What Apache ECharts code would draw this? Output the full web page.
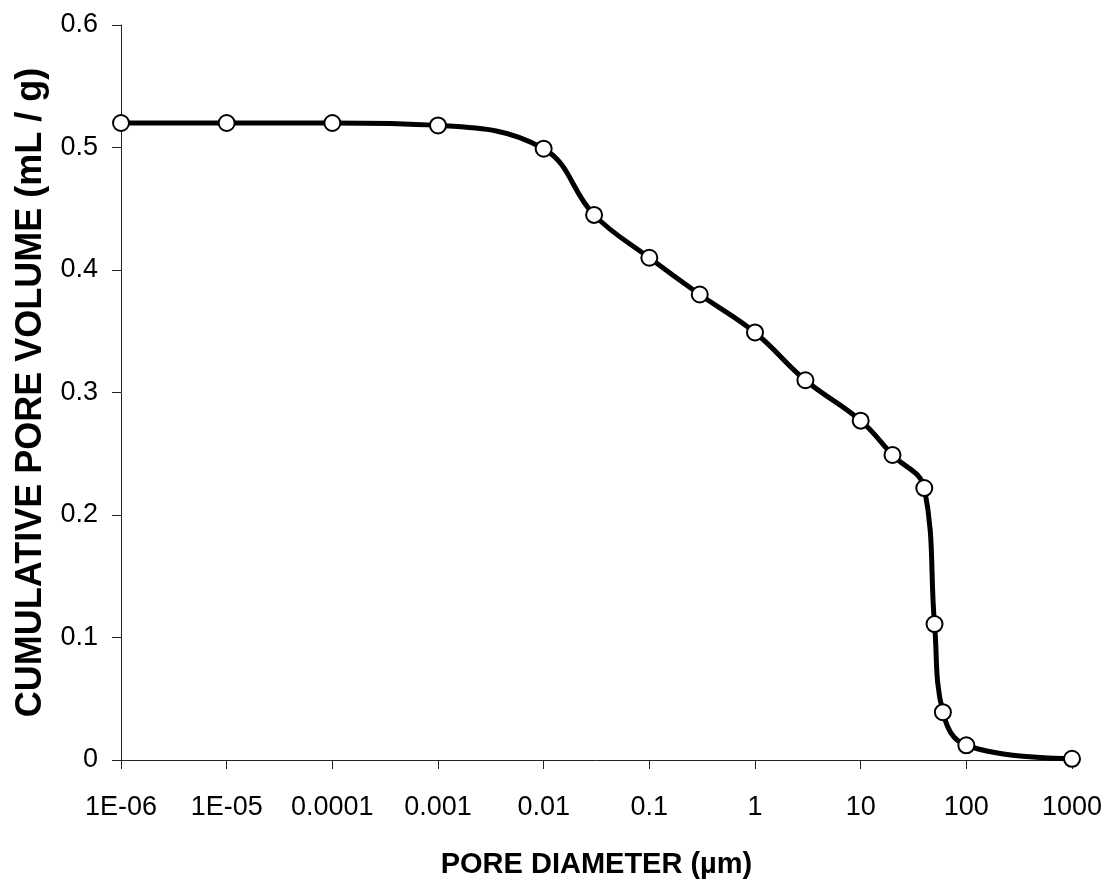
<!DOCTYPE html>
<html>
<head>
<meta charset="utf-8">
<script src="https://cdn.jsdelivr.net/npm/echarts@6/dist/echarts.min.js"></script>
<style>
html,body{margin:0;padding:0;background:#fff;}
#chart{width:1112px;height:884px;}
</style>
</head>
<body>
<div id="chart"></div>
<script>
var poreDiameter = [1e-6, 1e-5, 1e-4, 1e-3, 0.01, 0.03, 0.1, 0.3, 1, 3, 10, 20, 40, 50, 60, 100, 1000];
var poreVolume = [0.520, 0.520, 0.520, 0.518, 0.499, 0.445, 0.410, 0.380, 0.349, 0.310, 0.277, 0.249, 0.222, 0.111, 0.039, 0.012, 0.001];
var xTickLabels = ['1E-06', '1E-05', '0.0001', '0.001', '0.01', '0.1', '1', '10', '100', '1000'];
var xTitle = 'PORE DIAMETER (\u00b5m)';
var yTitle = 'CUMULATIVE PORE VOLUME (mL / g)';

var seriesData = poreDiameter.map(function (d, i) { return [d, poreVolume[i]]; });
var font = "'Liberation Sans', Arial, sans-serif";

var chart = echarts.init(document.getElementById('chart'), null, {renderer: 'canvas'});
chart.setOption({
  animation: false,
  backgroundColor: '#ffffff',
  grid: {left: 121, right: 40, top: 25, bottom: 124, containLabel: false},
  xAxis: {
    type: 'log',
    logBase: 10,
    min: 1e-6,
    max: 1000,
    splitNumber: 9,
    name: xTitle,
    nameLocation: 'middle',
    nameGap: 90,
    nameTextStyle: {fontFamily: font, fontSize: 29, fontWeight: 'bold', color: '#000'},
    axisLine: {show: true, onZero: false, lineStyle: {color: '#222', width: 1}},
    axisTick: {show: true, inside: false, length: 9, lineStyle: {color: '#222', width: 1}},
    minorTick: {show: false},
    splitLine: {show: false},
    axisLabel: {
      margin: 34,
      fontFamily: font,
      fontSize: 27,
      color: '#000',
      formatter: function (v) {
        var idx = Math.round(Math.log(v) / Math.LN10) + 6;
        return xTickLabels[idx] !== undefined ? xTickLabels[idx] : '';
      }
    }
  },
  yAxis: {
    type: 'value',
    min: 0,
    max: 0.6,
    interval: 0.1,
    name: yTitle,
    nameLocation: 'middle',
    nameGap: 72,
    nameTextStyle: {fontFamily: font, fontSize: 36, fontWeight: 'bold', color: '#000'},
    axisLine: {show: true, lineStyle: {color: '#222', width: 1}},
    axisTick: {show: true, inside: false, length: 9, lineStyle: {color: '#222', width: 1}},
    splitLine: {show: false},
    axisLabel: {margin: 23, fontFamily: font, fontSize: 27, color: '#000'}
  },
  series: [{
    type: 'line',
    data: seriesData,
    smooth: 0.4,
    symbol: 'circle',
    symbolSize: 16,
    showAllSymbol: true,
    lineStyle: {color: '#000', width: 5},
    itemStyle: {color: '#fff', borderColor: '#000', borderWidth: 2},
    z: 3
  }]
});
</script>
</body>
</html>
